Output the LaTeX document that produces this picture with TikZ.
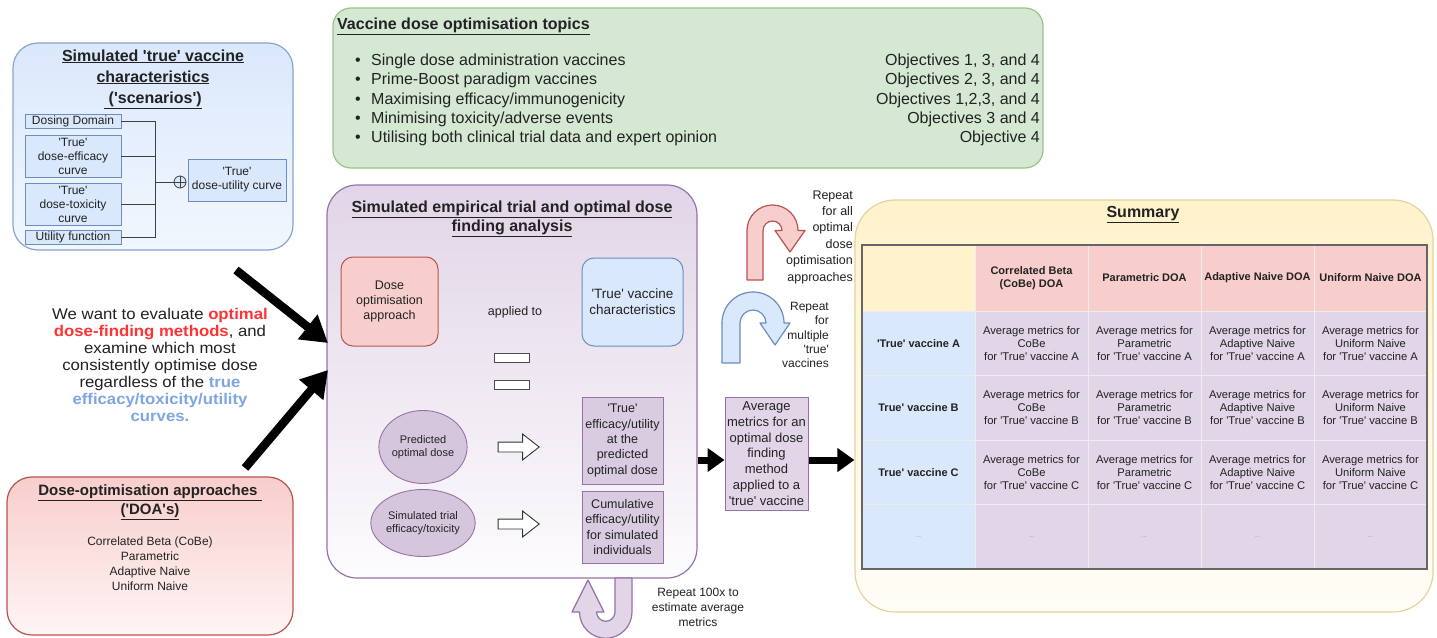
\documentclass[tikz,border=0pt]{standalone}
\usepackage{fontspec}
\setmainfont{Liberation Sans}[Ligatures=TeXOff]
\newfontfamily\widef{Liberation Sans}[Ligatures=TeXOff,FakeStretch=1.08]
\usetikzlibrary{arrows.meta,shapes.geometric,shapes.arrows,calc}
\newcommand\setfs[2]{\fontsize{#1}{#2}\selectfont}
\definecolor{bfill}{HTML}{DAE8FC}
\definecolor{bline}{HTML}{6C8EBF}
\definecolor{rfill}{HTML}{F8CECC}
\definecolor{rline}{HTML}{B85450}
\definecolor{pfill}{HTML}{E1D5E7}
\definecolor{pline}{HTML}{9673A6}
\definecolor{gfill}{HTML}{D5E8D4}
\definecolor{gline}{HTML}{82B366}
\definecolor{yfill}{HTML}{FFF2CC}
\definecolor{yline}{HTML}{D6B656}
\definecolor{optred}{HTML}{FF3333}
\definecolor{optblue}{HTML}{7EA6E0}
\definecolor{txt}{HTML}{222222}
\tikzset{
  every node/.style={text=txt},
  panel/.style={rounded corners=#1, line width=1.2pt, inner sep=0pt},
  panel/.default=25pt,
  sbox/.style={draw=bline, fill=bfill, line width=0.8pt, inner sep=1pt, align=center, font=\setfs{12}{14}, minimum width=96pt},
  conn/.style={draw=black!75, line width=1pt},
  gline/.style={anchor=west, inner sep=0pt, font=\setfs{16}{19}, text height=11.5pt, text depth=3.5pt},
  gobj/.style={anchor=east, inner sep=0pt, font=\setfs{16}{19}, text height=11.5pt, text depth=3.5pt},
  innerbox/.style={rounded corners=12pt, line width=1pt, inner sep=0pt, align=center},
  ell/.style={ellipse, draw=pline, fill=pfill!85!pline, line width=0.9pt, inner sep=0pt, align=center, font=\setfs{11}{13.3}, minimum width=86pt},
  pbox/.style={draw=pline, fill=pfill!90!pline, line width=0.9pt, inner sep=0pt, align=center, font=\setfs{12.5}{15.3}, minimum width=81pt},
  hollow/.style={single arrow, draw=black!80, fill=white, line width=0.9pt, minimum height=41pt, minimum width=25pt, inner sep=4.5pt, single arrow head extend=8pt, single arrow tip angle=76},
  eqbar/.style={draw=black!70, fill=white, line width=0.9pt, minimum width=35pt, minimum height=9pt, inner sep=0pt},
  bigarrow/.style={line width=8.5pt, draw=black, -{Triangle[length=26pt,width=30pt]}},
  midarrow/.style={line width=7pt, draw=black, -{Triangle[length=17pt,width=23pt]}},
  cell/.style={minimum width=113pt, inner sep=0pt, align=center, draw=black!7, line width=0.6pt},
  loopr/.style={fill=rfill, draw=rline, line width=1.2pt, line join=round},
  loopb/.style={fill=bfill, draw=bline, line width=1.2pt, line join=round},
  loopp/.style={fill=pfill, draw=pline, line width=1.2pt, line join=round},
}
\begin{document}
\begin{tikzpicture}[x=1pt,y=-1pt]
\useasboundingbox (0,0) rectangle (1437,637);
\clip (0,0) rectangle (1437,637);
\fill[white] (0,0) rectangle (1437,637);

% ---------- top-left: simulated true vaccine characteristics
\node[panel, draw=bline!80, top color=bfill, bottom color=bfill!35!white, minimum width=280pt, minimum height=207pt] (tlbox) at (153,146.5) {};
\node[font=\bfseries\setfs{16}{21}, align=center, inner sep=0pt] (tltitle) at (153,79) {\underline{Simulated 'true' vaccine}\\\underline{characteristics}\\\underline{\ ('scenarios')}};
\node[sbox, minimum height=14pt] (dd) at (73,121) {Dosing Domain};
\node[sbox, minimum height=42pt] (eff) at (73,156) {'True'\\dose-efficacy\\curve};
\node[sbox, minimum height=42pt] (tox) at (73,204) {'True'\\dose-toxicity\\curve};
\node[sbox, minimum height=14pt] (uf) at (73,237) {Utility function};
\node[sbox, minimum width=98pt, minimum height=42pt] (du) at (237,180) {'True'\\dose-utility curve};
\coordinate (bus) at (155,182);
\node[circle, draw=black!75, line width=0.8pt, minimum size=12pt, inner sep=0pt, fill=bfill] (oplus) at (180,182) {};
\draw[conn] (dd.east) -| (bus);
\draw[conn] (eff.east) -| (bus);
\draw[conn] (tox.east) -| (bus);
\draw[conn] (uf.east) -| (bus);
\draw[conn] (bus) -- (oplus.west);
\draw[black!75, line width=0.8pt] (oplus.north) -- (oplus.south) (oplus.west) -- (oplus.east);

% ---------- green topics box
\node[panel=18pt, draw=gline!80, fill=gfill, minimum width=710pt, minimum height=160pt] (gbox) at (688,88) {};
\node[anchor=west, inner sep=0pt, font=\bfseries\setfs{16}{19}] (gtitle) at (337,26) {\underline{Vaccine dose optimisation topics}};
\node[gline] (b1) at (355,61) {\textbullet};
\node[gline] (b2) at (355,80) {\textbullet};
\node[gline] (b3) at (355,100) {\textbullet};
\node[gline] (b4) at (355,119) {\textbullet};
\node[gline] (b5) at (355,138) {\textbullet};
\node[gline] (g1) at (371,61) {Single dose administration vaccines};
\node[gline] (g2) at (371,80) {Prime-Boost paradigm vaccines};
\node[gline] (g3) at (371,100) {Maximising efficacy/immunogenicity};
\node[gline] (g4) at (371,119) {Minimising toxicity/adverse events};
\node[gline] (g5) at (371,138) {Utilising both clinical trial data and expert opinion};
\node[gobj] (o1) at (1040,61) {Objectives 1, 3, and 4};
\node[gobj] (o2) at (1040,80) {Objectives 2, 3, and 4};
\node[gobj] (o3) at (1040,100) {Objectives 1,2,3, and 4};
\node[gobj] (o4) at (1040,119) {Objectives 3 and 4};
\node[gobj] (o5) at (1040,138) {Objective 4};

% ---------- left explanatory text
\node[align=center, inner sep=0pt, font=\widef\setfs{15.5}{17}] (why) at (160,364.5) {We want to evaluate \textcolor{optred}{\bfseries optimal}\\\textcolor{optred}{\bfseries dose-finding methods}, and\\examine which most\\consistently optimise dose\\regardless of the \textcolor{optblue}{\bfseries true}\\\textcolor{optblue}{\bfseries efficacy/toxicity/utility}\\\textcolor{optblue}{\bfseries curves.}};

% ---------- bottom-left DOA box
\node[panel, draw=rline, top color=rfill, bottom color=rfill!20!white, minimum width=286pt, minimum height=158pt] (doabox) at (150,556) {};
\node[font=\bfseries\setfs{15}{19}, align=center, inner sep=0pt] (doatitle) at (150,502.5) {\underline{Dose-optimisation approaches\ }\\\underline{('DOA's)}};
\node[font=\setfs{12}{15}, align=center, inner sep=0pt] (doalist) at (150,563.5) {Correlated Beta (CoBe)\\Parametric\\Adaptive Naive\\Uniform Naive};

% ---------- middle box
\node[panel=30pt, draw=pline, top color=pfill, bottom color=pfill!8!white, minimum width=370pt, minimum height=393pt] (mid) at (512,381.5) {};
\node[font=\bfseries\setfs{16}{19}, align=center, inner sep=0pt] (midtitle) at (512,218.5) {\underline{Simulated empirical trial and optimal dose}\\\underline{finding analysis}};
\node[innerbox, draw=rline, fill=rfill, minimum width=97pt, minimum height=89pt, font=\setfs{12.5}{15}] (doa) at (389.5,301.5) {Dose\\optimisation\\approach};
\node[inner sep=0pt, font=\setfs{12.5}{15}] (applied) at (515,312) {applied to};
\node[innerbox, draw=bline, fill=bfill, minimum width=101pt, minimum height=88pt, font=\setfs{13.5}{16}] (tvc) at (632.5,302) {'True' vaccine\\characteristics};
\node[eqbar] (eq1) at (511.5,357.5) {};
\node[eqbar] (eq2) at (511.5,384.5) {};
\node[ell, minimum height=73pt] (pod) at (423,447) {Predicted\\optimal dose};
\node[ell, minimum height=67pt] (ste) at (423,523) {Simulated trial\\efficacy/toxicity};
\node[hollow] (ha1) at (515.5,447) {};
\node[hollow] (ha2) at (515.5,524) {};
\node[pbox, minimum height=87pt] (teu) at (622.5,440.5) {'True'\\efficacy/utility\\at the\\predicted\\optimal dose};
\node[pbox, minimum height=72pt] (ceu) at (622.5,527) {Cumulative\\efficacy/utility\\for simulated\\individuals};

% bottom loop arrow
\path[loopp] (632,578) -- (632,612) arc[start angle=0, end angle=180, radius=26.25] -- (572,612) -- (588,580) -- (604,612) -- (596.5,612) arc[start angle=180, end angle=0, radius=9.25] -- (615,578) -- cycle;
\node[align=center, inner sep=0pt, font=\setfs{12}{15}] (rep3) at (698,607) {Repeat 100x to\\estimate average\\metrics};

% ---------- average box and loops
\node[draw=pline, fill=pfill, line width=1pt, minimum width=83pt, minimum height=113pt, align=center, font=\setfs{13}{15.7}, inner sep=0pt] (avg) at (766.5,453.5) {Average\\metrics for an\\optimal dose\\finding\\method\\applied to a\\'true' vaccine};
\path[loopr] (747,280) -- (747,230.5) arc[start angle=180, end angle=360, radius=25.5] -- (805,230.5) -- (790,252) -- (775,230.5) -- (782,230.5) arc[start angle=0, end angle=-180, radius=9.5] -- (763,280) -- cycle;
\node[anchor=east, align=right, inner sep=0pt, font=\setfs{12.5}{16.4}] (rep1) at (853,237) {Repeat\\for all\\optimal\\dose\\optimisation\\approaches};
\path[loopb] (722,363) -- (722,323) arc[start angle=180, end angle=360, radius=31] -- (790,323) -- (775,345) -- (760,323) -- (766,323) arc[start angle=0, end angle=-180, radius=13] -- (740,363) -- cycle;
\node[anchor=east, align=right, inner sep=0pt, font=\setfs{12}{14.2}] (rep2) at (829,335) {Repeat\\for\\multiple\\'true'\\vaccines};

% ---------- summary
\node[panel=40pt, draw=yline!60, top color=yfill, bottom color=yfill!15!white, minimum width=578pt, minimum height=412pt] (sum) at (1144,406) {};
\node[font=\bfseries\setfs{16}{19}, inner sep=0pt] (sumtitle) at (1143,215) {\underline{Summary}};
\node[cell, fill=yfill, minimum height=66pt] (h0) at (918.5,278) {};
\node[cell, fill=rfill, minimum height=66pt, font=\bfseries\setfs{11}{13.2}] (h1) at (1031.5,278) {Correlated Beta\\(CoBe) DOA};
\node[cell, fill=rfill, minimum height=66pt, font=\bfseries\setfs{11}{13.2}] (h2) at (1144.5,278) {Parametric DOA};
\node[cell, fill=rfill, minimum height=66pt, font=\bfseries\setfs{11}{13.2}] (h3) at (1257.5,278) {Adaptive Naive DOA};
\node[cell, fill=rfill, minimum height=66pt, font=\bfseries\setfs{11}{13.2}] (h4) at (1370.5,278) {Uniform Naive DOA};
\foreach \r/\y/\lab in {A/343.25/{'True' vaccine A}, B/407.75/{True' vaccine B}, C/472.25/{True' vaccine C}} {
  \node[cell, fill=bfill, minimum height=64.5pt, font=\bfseries\setfs{11}{13}] (r\r0) at (918.5,\y) {\lab};
  \node[cell, fill=pfill, minimum height=64.5pt, font=\setfs{11.2}{13.2}] (r\r1) at (1031.5,\y) {Average metrics for\\CoBe\\for 'True' vaccine \r};
  \node[cell, fill=pfill, minimum height=64.5pt, font=\setfs{11.2}{13.2}] (r\r2) at (1144.5,\y) {Average metrics for\\Parametric\\for 'True' vaccine \r};
  \node[cell, fill=pfill, minimum height=64.5pt, font=\setfs{11.2}{13.2}] (r\r3) at (1257.5,\y) {Average metrics for\\Adaptive Naive\\for 'True' vaccine \r};
  \node[cell, fill=pfill, minimum height=64.5pt, font=\setfs{11.2}{13.2}] (r\r4) at (1370.5,\y) {Average metrics for\\Uniform Naive\\for 'True' vaccine \r};
}
\node[cell, fill=bfill, minimum height=64.5pt, font=\setfs{6}{7}, text=black!45] (rD0) at (918.5,536.75) {...};
\node[cell, fill=pfill, minimum height=64.5pt, font=\setfs{6}{7}, text=black!45] (rD1) at (1031.5,536.75) {...};
\node[cell, fill=pfill, minimum height=64.5pt, font=\setfs{6}{7}, text=black!45] (rD2) at (1144.5,536.75) {...};
\node[cell, fill=pfill, minimum height=64.5pt, font=\setfs{6}{7}, text=black!45] (rD3) at (1257.5,536.75) {...};
\node[cell, fill=pfill, minimum height=64.5pt, font=\setfs{6}{7}, text=black!45] (rD4) at (1370.5,536.75) {...};
\draw[line width=2pt, draw=black!60] (h0.north west) rectangle (rD4.south east);

% ---------- black arrows
\coordinate (s1) at (236,270);
\coordinate (t1) at (328,343);
\coordinate (s2) at (245,468);
\coordinate (t2) at (328,370);
\draw[bigarrow] (s1) -- (t1);
\draw[bigarrow] (s2) -- (t2);
\coordinate (ay) at (0,460);
\draw[midarrow] (mid.east |- ay) -- (avg.west |- ay);
\draw[midarrow] (avg.east |- ay) -- (sum.west |- ay);
\end{tikzpicture}
\end{document}
